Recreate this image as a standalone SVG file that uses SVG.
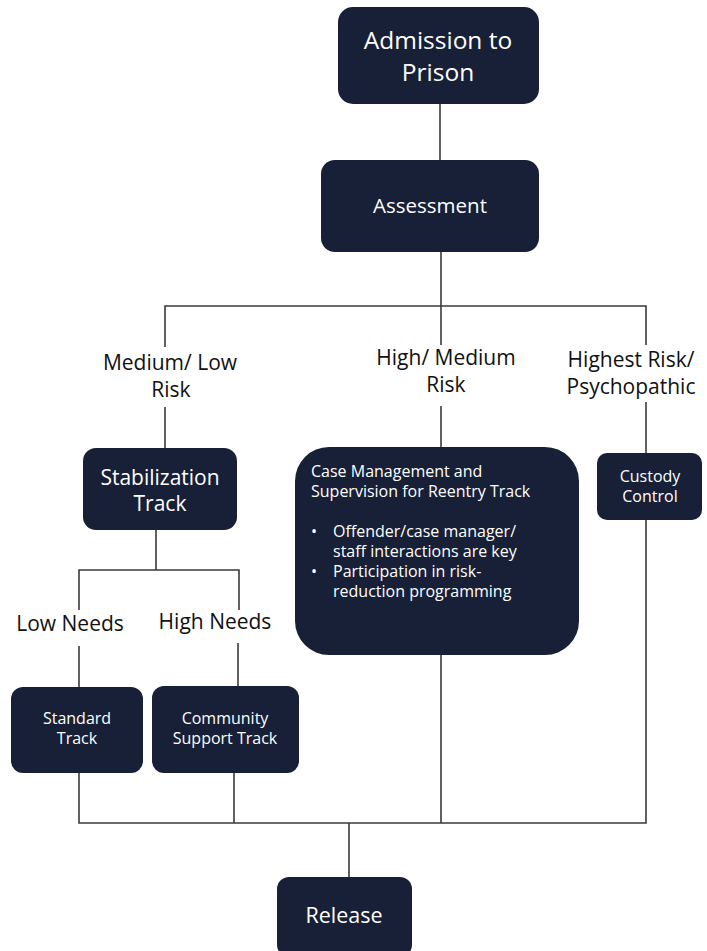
<svg xmlns="http://www.w3.org/2000/svg" width="707" height="951" viewBox="0 0 707 951">
<style>
.box{fill:#172036;}
.wt{fill:#ffffff;font-family:"Open Sans","Noto Sans",sans-serif;text-anchor:middle;}
.wl{fill:#ffffff;font-family:"Open Sans","Noto Sans",sans-serif;font-size:16px;}
.lbl{fill:#111111;font-family:"Open Sans","Noto Sans",sans-serif;text-anchor:middle;font-size:21px;}
.ln{stroke:#3a3a3a;stroke-width:1.6;fill:none;}
</style>
<rect width="707" height="951" fill="#ffffff"/>
<g id="connectors">
<path class="ln" d="M440,104 V160"/>
<path class="ln" d="M441,252 V306"/>
<path class="ln" d="M165,347 V306 H646 V345"/>
<path class="ln" d="M441,306 V345"/>
<path class="ln" d="M165,407 V448"/>
<path class="ln" d="M441,406 V447"/>
<path class="ln" d="M646,402 V453"/>
<path class="ln" d="M156,530 V570"/>
<path class="ln" d="M79,610 V570 H239 V610"/>
<path class="ln" d="M79,646 V687"/>
<path class="ln" d="M238,643 V686"/>
<path class="ln" d="M79,773 V823 H646 V520"/>
<path class="ln" d="M234,773 V823"/>
<path class="ln" d="M441,655 V823"/>
<path class="ln" d="M349,823 V877"/>
</g>
<g id="labels">
<text class="lbl"><tspan x="170" y="369.5">Medium/ Low</tspan><tspan x="171" y="396.5">Risk</tspan></text>
<text class="lbl"><tspan x="446" y="365">High/ Medium</tspan><tspan x="446" y="392">Risk</tspan></text>
<text class="lbl"><tspan x="631" y="367">Highest Risk/</tspan><tspan x="631" y="394">Psychopathic</tspan></text>
<text class="lbl" x="70" y="631">Low Needs</text>
<text class="lbl" x="215" y="629">High Needs</text>
</g>
<g id="admission">
<rect class="box" x="338" y="7" width="201" height="97" rx="15"/>
<text class="wt" font-size="24.5"><tspan x="438" y="49">Admission to</tspan><tspan x="438" y="81">Prison</tspan></text>
</g>
<g id="assessment">
<rect class="box" x="321" y="160" width="218" height="92" rx="14"/>
<text class="wt" x="430" y="213" font-size="20.5">Assessment</text>
</g>
<g id="stabilization">
<rect class="box" x="83" y="448" width="154" height="82" rx="13"/>
<text class="wt" font-size="21"><tspan x="160" y="484.5">Stabilization</tspan><tspan x="160" y="511">Track</tspan></text>
</g>
<g id="casemanagement">
<rect class="box" x="295" y="447" width="284" height="208" rx="34"/>
<text class="wl"><tspan x="311" y="477">Case Management and</tspan><tspan x="311" y="497">Supervision for Reentry Track</tspan></text>
<text class="wl"><tspan x="311" y="537">•</tspan><tspan x="333" y="537">Offender/case manager/</tspan><tspan x="333" y="557">staff interactions are key</tspan><tspan x="311" y="577">•</tspan><tspan x="333" y="577">Participation in risk-</tspan><tspan x="333" y="597">reduction programming</tspan></text>
</g>
<g id="custody">
<rect class="box" x="597" y="453" width="105" height="67" rx="10"/>
<text class="wt" font-size="16"><tspan x="650" y="481.5">Custody</tspan><tspan x="650" y="501.5">Control</tspan></text>
</g>
<g id="standard">
<rect class="box" x="11" y="687" width="132" height="86" rx="12"/>
<text class="wt" font-size="16"><tspan x="77" y="723.5">Standard</tspan><tspan x="77" y="744">Track</tspan></text>
</g>
<g id="community">
<rect class="box" x="152" y="686" width="147" height="87" rx="12"/>
<text class="wt" font-size="16"><tspan x="225" y="723.5">Community</tspan><tspan x="225" y="744">Support Track</tspan></text>
</g>
<g id="release">
<rect class="box" x="277" y="877" width="135" height="80" rx="12"/>
<text class="wt" x="344" y="923" font-size="21.5">Release</text>
</g>
</svg>
